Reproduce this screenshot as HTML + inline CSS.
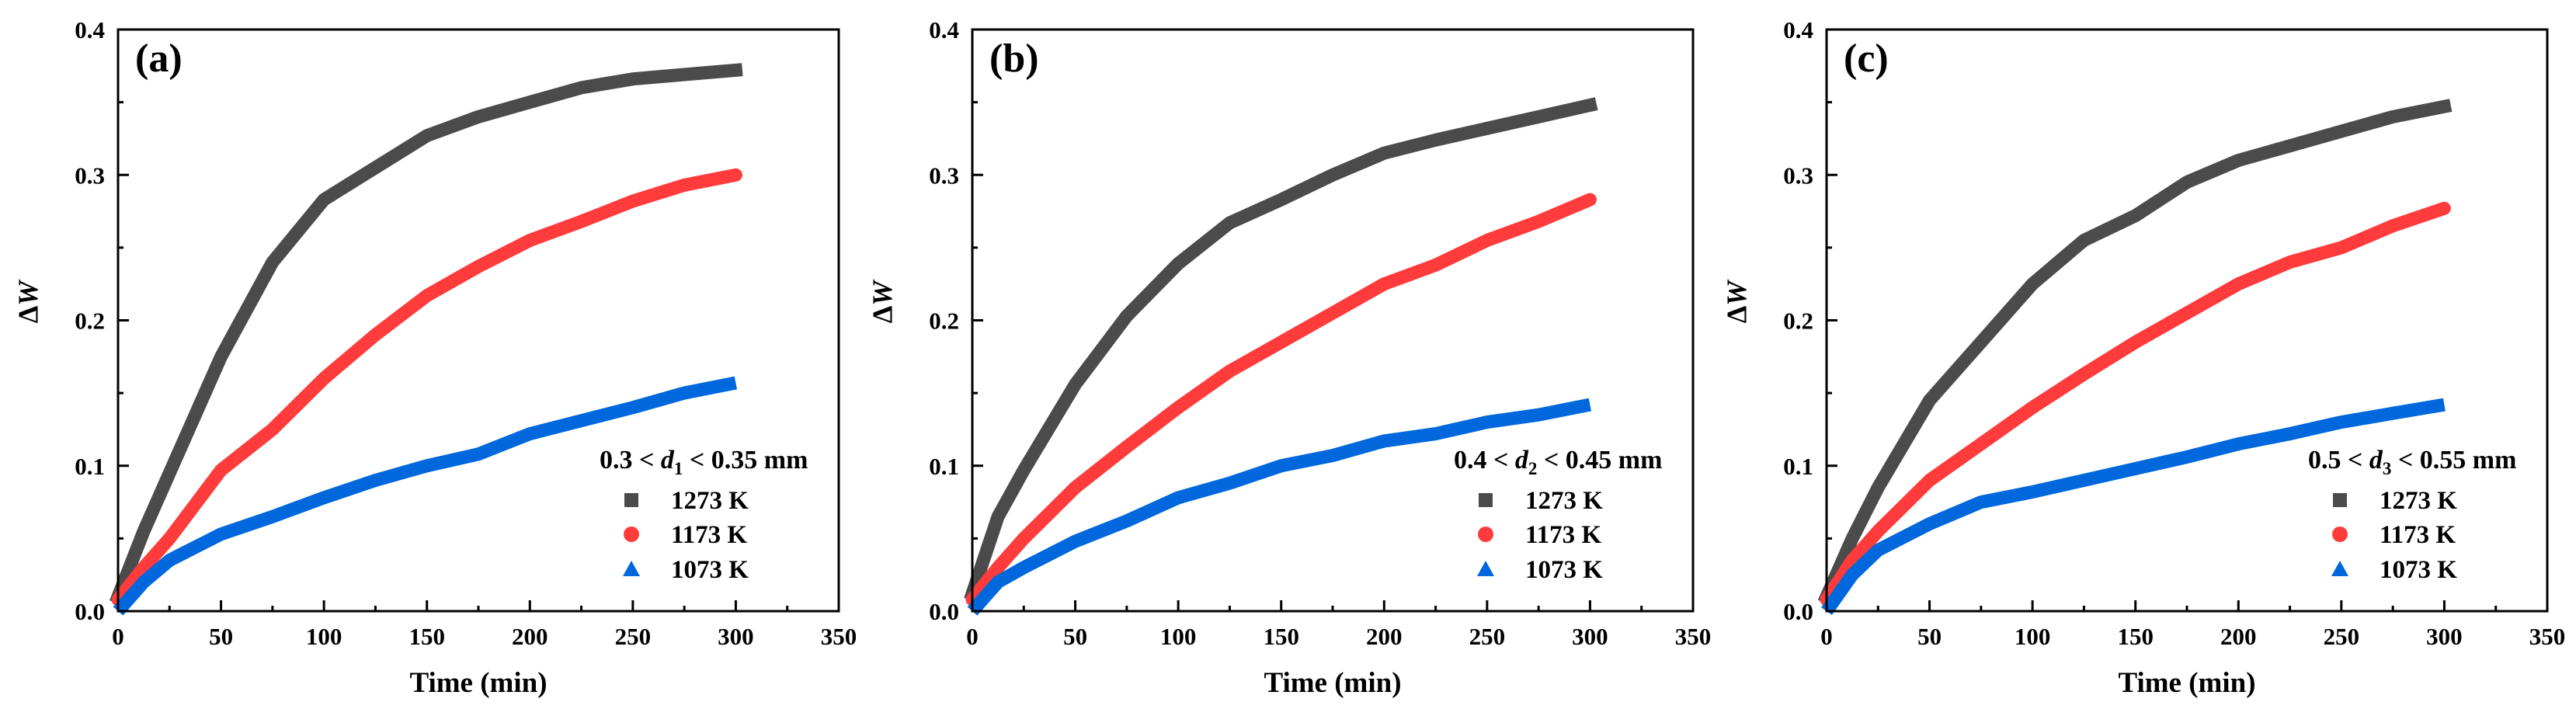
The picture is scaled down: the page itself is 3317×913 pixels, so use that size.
<!DOCTYPE html>
<html><head><meta charset="utf-8"><style>
html,body{margin:0;padding:0;background:#fff;}
svg{display:block;font-family:"Liberation Serif",serif;font-weight:bold;}
</style></head><body>
<svg id="chart" width="3317" height="913" viewBox="0 0 3317 913" xmlns="http://www.w3.org/2000/svg"></svg>
<script>
const times = [0,12.5,25,50,75,100,125,150,175,200,225,250,275,300];
const panelLabels = ['(a)','(b)','(c)'];
const legendTitlesPre = ['0.3 < ','0.4 < ','0.5 < '];
const legendSubs = ['1','2','3'];
const legendTitlesPost = [' < 0.35 mm',' < 0.45 mm',' < 0.55 mm'];
const seriesNames = ['1273 K','1173 K','1073 K'];
const seriesColors = ['#4b4b4b','#ff3b3b','#0068dc'];
const xTicks = [0,50,100,150,200,250,300,350];
const yTicks = [0,0.1,0.2,0.3,0.4];
const yTickLabels = ['0.0','0.1','0.2','0.3','0.4'];
// panel a
const a1273 = [0.01,0.055,0.095,0.175,0.24,0.283,0.305,0.327,0.34,0.35,0.36,0.366,0.369,0.372];
const a1173 = [0.008,0.03,0.05,0.097,0.125,0.16,0.19,0.217,0.237,0.255,0.268,0.282,0.293,0.30];
const a1073 = [0.0,0.02,0.035,0.053,0.065,0.078,0.09,0.10,0.108,0.122,0.131,0.14,0.15,0.157];
// panel b
const b1273 = [0.012,0.065,0.097,0.156,0.203,0.239,0.267,0.283,0.30,0.315,0.324,0.332,0.34,0.348];
const b1173 = [0.008,0.03,0.05,0.085,0.113,0.14,0.165,0.185,0.205,0.225,0.238,0.255,0.268,0.283];
const b1073 = [0.0,0.02,0.03,0.048,0.062,0.078,0.088,0.10,0.107,0.117,0.122,0.13,0.135,0.142];
// panel c
const c1273 = [0.01,0.05,0.085,0.145,0.185,0.225,0.255,0.272,0.295,0.31,0.32,0.33,0.34,0.347];
const c1173 = [0.008,0.035,0.055,0.09,0.115,0.14,0.163,0.185,0.205,0.225,0.24,0.25,0.265,0.277];
const c1073 = [0.0,0.025,0.042,0.06,0.075,0.082,0.09,0.098,0.106,0.115,0.122,0.13,0.136,0.142];
const panelData = [[a1273,a1173,a1073],[b1273,b1173,b1073],[c1273,c1173,c1073]];

const NS='http://www.w3.org/2000/svg';
const svg=document.getElementById('chart');
function mk(tag,attrs,parent){const e=document.createElementNS(NS,tag);for(const k in attrs)e.setAttribute(k,attrs[k]);(parent||svg).appendChild(e);return e;}

const lefts=[152,1252,2352];
const W=928, TOP=38, BOT=787;
for(let p=0;p<3;p++){
  const L=lefts[p];
  const g=mk('g',{});
  
  
  const xs=t=>L+t/350*W;
  const ys=v=>BOT-v/0.4*(BOT-TOP);
  const caps=['square','round','butt'];
  for(let s=0;s<3;s++){
    const vals=panelData[p][s];
    const pts=times.map((t,i)=>xs(t).toFixed(1)+','+ys(vals[i]).toFixed(1)).join(' ');
    const pl=mk('polyline',{points:pts,fill:'none',stroke:seriesColors[s],'stroke-width':17,'stroke-linejoin':'round','stroke-linecap':caps[s]},g);
    
    
  }
  const fr=mk('rect',{x:L,y:TOP,width:W,height:BOT-TOP,fill:'none',stroke:'#000','stroke-width':3},g);
  
  
  for(let t=0;t<=350;t+=25){
    const major=t%50===0;
    mk('line',{x1:xs(t),x2:xs(t),y1:BOT,y2:BOT-(major?14:7),stroke:'#000','stroke-width':3},g);
  }
  xTicks.forEach(t=>{
    const tx=mk('text',{x:xs(t),y:830,'text-anchor':'middle','font-size':31},g);
    tx.textContent=t;
    
    
  });
  for(let k=0;k<=8;k++){
    const v=k*0.05;const major=k%2===0;
    mk('line',{x1:L,x2:L+(major?14:7),y1:ys(v),y2:ys(v),stroke:'#000','stroke-width':3},g);
  }
  yTicks.forEach((v,i)=>{
    const tx=mk('text',{x:L-17,y:ys(v)+11,'text-anchor':'end','font-size':31},g);
    tx.textContent=yTickLabels[i];
    
    
  });
  const xt=mk('text',{x:L+W/2,y:891,'text-anchor':'middle','font-size':37},g);
  xt.textContent='Time (min)';
  
  
  const yt=mk('text',{x:0,y:0,'text-anchor':'middle','font-size':36,transform:`translate(${L-104},389) rotate(-90)`},g);
  yt.innerHTML='Δ<tspan font-style="italic">W</tspan>';
  
  
  const pl=mk('text',{x:L+22,y:92,'font-size':52},g);
  pl.textContent=panelLabels[p];
  
  
  const lg=mk('g',{},g);
  
  
  const lt=mk('text',{x:L+620,y:603,'font-size':34},lg);
  lt.innerHTML=legendTitlesPre[p]+'<tspan font-style="italic">d</tspan><tspan font-size="23" dy="8">'+legendSubs[p]+'</tspan><tspan dy="-8">'+legendTitlesPost[p]+'</tspan>';
  
  
  const rowsY=[644,688,733];
  for(let s=0;s<3;s++){
    const cx=L+661, cy=rowsY[s];
    let m;
    if(s===0) m=mk('rect',{x:cx-9,y:cy-9,width:18,height:18,fill:seriesColors[0]},lg);
    else if(s===1) m=mk('circle',{cx:cx,cy:cy,r:10,fill:seriesColors[1]},lg);
    else m=mk('polygon',{points:`${cx-11},${cy+9} ${cx+11},${cy+9} ${cx},${cy-11}`,fill:seriesColors[2]},lg);
    
    
    const tx=mk('text',{x:L+712,y:cy+11,'font-size':33},lg);
    tx.textContent=seriesNames[s];
    
    
  }
}
</script>
</body></html>
